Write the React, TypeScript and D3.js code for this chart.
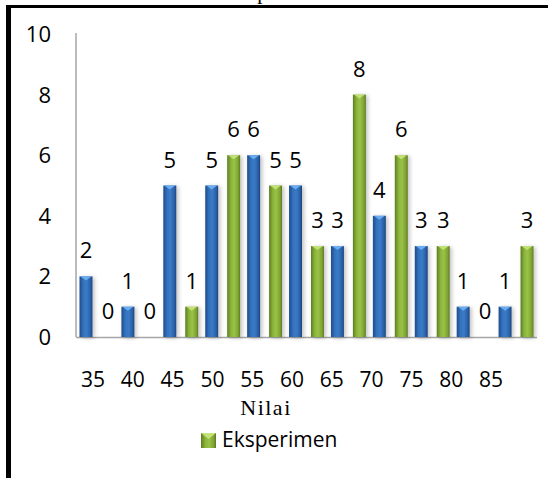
import React from "react";
import * as d3 from "d3";

const categories = ["35", "40", "45", "50", "55", "60", "65", "70", "75", "80", "85"];
const kontrolValues = [2, 1, 5, 5, 6, 5, 3, 4, 3, 1, 1];
const eksperimenValues = [0, 0, 1, 6, 5, 3, 8, 6, 3, 0, 3];
const seriesKeys = ["kontrol", "eksperimen"];
const yTicks = [0, 2, 4, 6, 8, 10];
const legendLabel = "Eksperimen";
const xTitle = "Nilai";
const chartTitle = "Eksperimen";

const W = 548;
const H = 478;

export default function App() {
  const x = d3.scaleBand<string>().domain(categories).range([76, 537]).paddingInner(0).paddingOuter(0);
  const xs = d3.scaleBand<string>().domain(seriesKeys).range([0, x.bandwidth()]).paddingInner(0.41).paddingOuter(0.16);
  const xLabel = d3.scalePoint<string>().domain(categories).range([93, 491]);
  const y = d3.scaleLinear().domain([0, 10]).range([337, 34]);
  const bw = xs.bandwidth();

  const series = [
    { key: "kontrol", values: kontrolValues, grad: "gBlue", bevel: "#6fb0f2" },
    { key: "eksperimen", values: eksperimenValues, grad: "gGreen", bevel: "#c4e27a" },
  ];

  const font = "'Open Sans', 'Noto Sans', sans-serif";

  return (
    <svg width={W} height={H} style={{ position: "absolute", left: 0, top: 0, background: "#fff" }}>
      <defs>
        <linearGradient id="gBlue" x1="0" x2="1" y1="0" y2="0">
          <stop offset="0" stopColor="#1d4c8a" />
          <stop offset="0.3" stopColor="#3472bd" />
          <stop offset="0.55" stopColor="#3a7bc8" />
          <stop offset="0.85" stopColor="#2a5fa5" />
          <stop offset="1" stopColor="#1a4480" />
        </linearGradient>
        <linearGradient id="gGreen" x1="0" x2="1" y1="0" y2="0">
          <stop offset="0" stopColor="#5e7d22" />
          <stop offset="0.3" stopColor="#8bb63c" />
          <stop offset="0.55" stopColor="#99c247" />
          <stop offset="0.85" stopColor="#7ea232" />
          <stop offset="1" stopColor="#5a7820" />
        </linearGradient>
        <filter id="shadow" x="-50%" y="-10%" width="200%" height="120%">
          <feGaussianBlur in="SourceAlpha" stdDeviation="2" />
          <feOffset dx="2" dy="1" result="b" />
          <feComponentTransfer>
            <feFuncA type="linear" slope="0.25" />
          </feComponentTransfer>
          <feMerge>
            <feMergeNode />
            <feMergeNode in="SourceGraphic" />
          </feMerge>
        </filter>
      </defs>

      {/* title, cut off at the top edge as in the reference */}
      <text x={276} y={-1.5} textAnchor="middle" fontFamily="'Liberation Serif', serif" fontSize={21} fill="#000">
        {chartTitle}
      </text>

      {/* border */}
      <line x1={6} x2={548} y1={6.5} y2={6.5} stroke="#000" strokeWidth={3} />
      <line x1={8.5} x2={8.5} y1={5} y2={478} stroke="#000" strokeWidth={5} />

      {/* axes */}
      <line x1={76} x2={76} y1={33} y2={y(0)} stroke="#a6a6a6" strokeWidth={1.5} />
      <line x1={76} x2={537} y1={y(0) + 0.5} y2={y(0) + 0.5} stroke="#a6a6a6" strokeWidth={1.5} />

      {yTicks.map((t) => (
        <text key={t} x={51} y={y(t)} dy="0.36em" textAnchor="end" fontFamily={font} fontSize={22} fill="#000">
          {t}
        </text>
      ))}

      {/* bars */}
      {series.map((s) =>
        categories.map((c, i) => {
          const v = s.values[i];
          const x0 = (x(c) ?? 0) + (xs(s.key) ?? 0);
          const top = y(v);
          const h = y(0) - top;
          return (
            <g key={s.key + c}>
              {v > 0 && (
                <g filter="url(#shadow)">
                  <rect x={x0} y={top} width={bw} height={h} fill={`url(#${s.grad})`} />
                  <polygon
                    points={`${x0 + 1},${top} ${x0 + bw - 1},${top} ${x0 + bw / 2},${top + 4}`}
                    fill={s.bevel}
                    opacity={0.95}
                  />
                </g>
              )}
              <text x={x0 + bw / 2} y={top - 18} textAnchor="middle" fontFamily={font} fontSize={22} fill="#000">
                {v}
              </text>
            </g>
          );
        })
      )}

      {/* x tick labels */}
      {categories.map((c) => (
        <text key={c} x={xLabel(c)} y={387} textAnchor="middle" fontFamily={font} fontSize={21} fill="#000">
          {c}
        </text>
      ))}

      <text x={266} y={415} textAnchor="middle" fontFamily="'Liberation Serif', serif" fontSize={22} fontWeight="normal" letterSpacing={1.5} fill="#000">
        {xTitle}
      </text>

      {/* legend */}
      <rect x={201} y={433} width={15} height={15} fill="url(#gGreen)" />
      <polygon points="201,433 216,433 208.5,439" fill="#c4e27a" />
      <text x={222} y={447} fontFamily={font} fontSize={21} fill="#000">
        {legendLabel}
      </text>
    </svg>
  );
}
